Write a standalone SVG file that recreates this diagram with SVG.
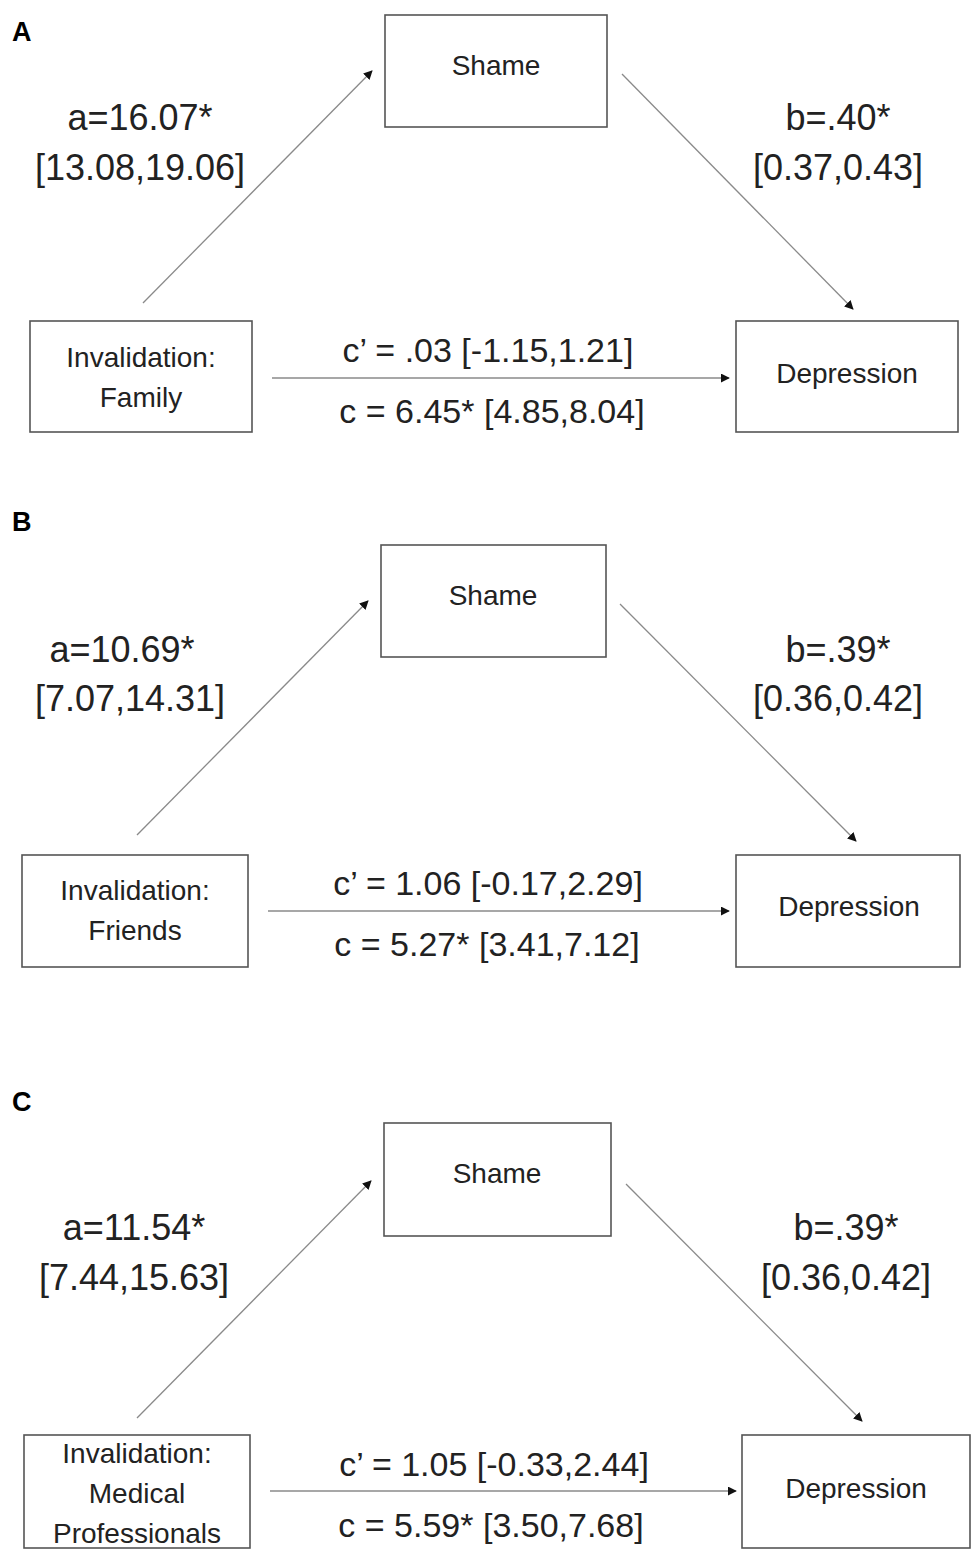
<svg xmlns="http://www.w3.org/2000/svg" width="975" height="1554" viewBox="0 0 975 1554">
<style>
.box{fill:#fff;stroke:#555;stroke-width:1.6}
.bt{font-family:"Liberation Sans",Arial,sans-serif;font-size:28px;fill:#222;text-anchor:middle}
.lab{font-family:"Liberation Sans",Arial,sans-serif;font-size:36px;fill:#222;text-anchor:middle}
.cl{font-family:"Liberation Sans",Arial,sans-serif;font-size:34px;fill:#222;text-anchor:middle}
.pl{font-family:"Liberation Sans",Arial,sans-serif;font-size:27px;font-weight:bold;fill:#000}
.edge{stroke:#8a8a8a;stroke-width:1.3;fill:none;marker-end:url(#ah)}
</style>
<defs>
<marker id="ah" viewBox="0 0 10 10" refX="9" refY="5" markerWidth="9" markerHeight="9" markerUnits="userSpaceOnUse" orient="auto">
<path d="M0,0 L10,5 L0,10 z" fill="#111"/>
</marker>
</defs>
<rect width="975" height="1554" fill="#fff"/>

<!-- Panel A -->
<text class="pl" x="12" y="41">A</text>
<g id="A-shame"><rect class="box" x="385" y="15" width="222" height="112"/><text class="bt" x="496" y="75">Shame</text></g>
<g id="A-inv"><rect class="box" x="30" y="321" width="222" height="111"/><text class="bt" x="141" y="367">Invalidation:</text><text class="bt" x="141" y="407">Family</text></g>
<g id="A-dep"><rect class="box" x="736" y="321" width="222" height="111"/><text class="bt" x="847" y="383">Depression</text></g>
<g id="A-labels">
<text class="lab" x="140" y="130">a=16.07*</text><text class="lab" x="140" y="180">[13.08,19.06]</text>
<text class="lab" x="838" y="130">b=.40*</text><text class="lab" x="838" y="180">[0.37,0.43]</text>
<text class="cl" x="488" y="362">c’ = .03 [-1.15,1.21]</text><text class="cl" x="492" y="423">c = 6.45* [4.85,8.04]</text>
</g>

<!-- Panel B -->
<text class="pl" x="12" y="531">B</text>
<g id="B-shame"><rect class="box" x="381" y="545" width="225" height="112"/><text class="bt" x="493" y="605">Shame</text></g>
<g id="B-inv"><rect class="box" x="22" y="855" width="226" height="112"/><text class="bt" x="135" y="900">Invalidation:</text><text class="bt" x="135" y="940">Friends</text></g>
<g id="B-dep"><rect class="box" x="736" y="855" width="224" height="112"/><text class="bt" x="849" y="916">Depression</text></g>
<g id="B-labels">
<text class="lab" x="122" y="662">a=10.69*</text><text class="lab" x="130" y="711">[7.07,14.31]</text>
<text class="lab" x="838" y="662">b=.39*</text><text class="lab" x="838" y="711">[0.36,0.42]</text>
<text class="cl" x="488" y="895">c’ = 1.06 [-0.17,2.29]</text><text class="cl" x="487" y="956">c = 5.27* [3.41,7.12]</text>
</g>

<!-- Panel C -->
<text class="pl" x="12" y="1111">C</text>
<g id="C-shame"><rect class="box" x="384" y="1123" width="227" height="113"/><text class="bt" x="497" y="1183">Shame</text></g>
<g id="C-inv"><rect class="box" x="24" y="1435" width="226" height="113"/><text class="bt" x="137" y="1463">Invalidation:</text><text class="bt" x="137" y="1503">Medical</text><text class="bt" x="137" y="1543">Professionals</text></g>
<g id="C-dep"><rect class="box" x="742" y="1435" width="228" height="113"/><text class="bt" x="856" y="1498">Depression</text></g>
<g id="C-labels">
<text class="lab" x="134" y="1240">a=11.54*</text><text class="lab" x="134" y="1290">[7.44,15.63]</text>
<text class="lab" x="846" y="1240">b=.39*</text><text class="lab" x="846" y="1290">[0.36,0.42]</text>
<text class="cl" x="494" y="1476">c’ = 1.05 [-0.33,2.44]</text><text class="cl" x="491" y="1537">c = 5.59* [3.50,7.68]</text>
</g>

<g id="connectors">
<line class="edge" x1="143" y1="303" x2="372" y2="71"/>
<line class="edge" x1="622" y1="74" x2="853" y2="309"/>
<line class="edge" x1="272" y1="378" x2="729" y2="378"/>
<line class="edge" x1="137" y1="835" x2="368" y2="601"/>
<line class="edge" x1="620" y1="604" x2="856" y2="841"/>
<line class="edge" x1="268" y1="911" x2="729" y2="911"/>
<line class="edge" x1="137" y1="1418" x2="371" y2="1181"/>
<line class="edge" x1="626" y1="1184" x2="862" y2="1421"/>
<line class="edge" x1="270" y1="1491" x2="736" y2="1491"/>
</g>
</svg>
